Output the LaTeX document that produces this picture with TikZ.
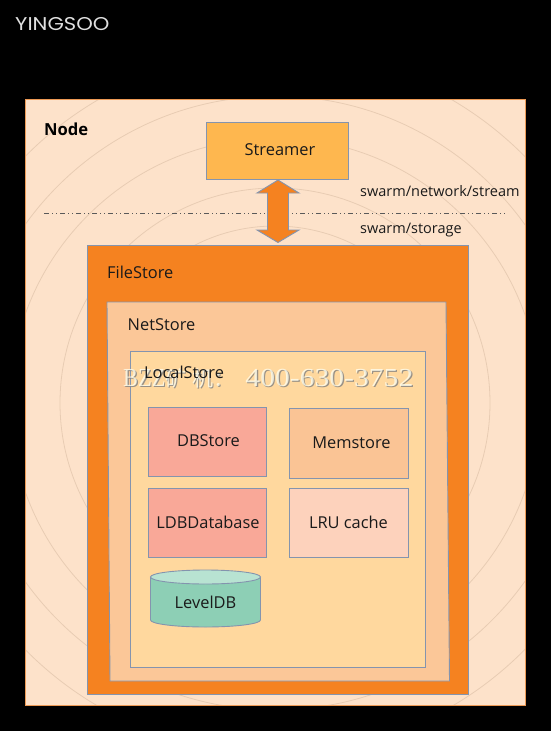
\documentclass[tikz,border=0pt]{standalone}
\usepackage{fontspec}
\setmainfont{Open Sans}
\newfontfamily\logofont{Poppins}
\newfontfamily\wmserif{Liberation Serif}
\newfontfamily\wmcjk{Noto Sans CJK SC}
\usetikzlibrary{shapes.geometric}
\definecolor{bgpeach}{HTML}{FDE2CA}
\definecolor{ringc}{HTML}{E8CCB3}
\definecolor{nodeedge}{HTML}{ED9A55}
\definecolor{edgeblue}{HTML}{8494AE}
\definecolor{streamerc}{HTML}{FEB74F}
\definecolor{orangec}{HTML}{F58220}
\definecolor{netc}{HTML}{FBC798}
\definecolor{localc}{HTML}{FFD89E}
\definecolor{salmonc}{HTML}{F9A898}
\definecolor{memc}{HTML}{FAC495}
\definecolor{lruc}{HTML}{FDD2BC}
\definecolor{cylc}{HTML}{8DCFB5}
\definecolor{cyltop}{HTML}{B8E3D2}
\definecolor{txt}{HTML}{1A1A1A}
\tikzset{
  x=1pt,y=-1pt,
  box/.style={draw=edgeblue,line width=0.9pt,inner sep=0pt,font=\fontsize{16.4}{19}\selectfont,text=txt},
  lab/.style={anchor=west,inner sep=0pt,font=\fontsize{16.4}{19}\selectfont,text=txt},
  small/.style={anchor=west,inner sep=0pt,font=\fontsize{14.5}{17}\selectfont,text=txt},
  ring/.style={draw=ringc,line width=0.8pt},
}
\begin{document}
\begin{tikzpicture}
\useasboundingbox (0,0) rectangle (551,731);
\fill[black] (0,0) rectangle (551,731);
\node[anchor=west,inner sep=0pt,text=white!88!black,font=\logofont\fontsize{18.5}{22}\selectfont] (logo) at (15,24) {\scalebox{1.14}[1]{YINGSOO}};
% Node panel
\begin{scope}
\clip (25,99) rectangle (525,705);
\fill[bgpeach] (25,99) rectangle (525,705);
\foreach \r in {177,215,265,307,351,393}{\draw[ring] (275,403) circle[radius=\r];}
\end{scope}
\draw[nodeedge,line width=0.9pt] (25,99) rectangle (525,705);
\node[anchor=west,inner sep=0pt,text=black,font=\bfseries\fontsize{16.6}{19}\selectfont] (nodelab) at (44,129.5) {Node};
% Separator
\coordinate (sepL) at (44,213.5);
\coordinate (sepR) at (505,213.5);
\draw[draw=black!65,line width=0.7pt,dash pattern=on 5pt off 3pt on 1pt off 3pt on 1pt off 3pt] (sepL) -- (sepR);
% Streamer
\node[box,fill=streamerc,minimum width=142pt,minimum height=57pt] (streamer) at (277.5,150.5) {};
\node[inner sep=0pt,font=\fontsize{16.4}{19}\selectfont,text=txt] (streamerlab) at (280,150) {Streamer};
\node[small] (netlab) at (360,191) {swarm/network/stream};
\node[small] (storlab) at (360,230) {swarm/storage};
% FileStore
\node[box,fill=orangec,minimum width=381pt,minimum height=449pt] (filestore) at (277.5,469.5) {};
\node[lab] (filelab) at (107,272.5) {FileStore};
% Arrow
\coordinate (tipT) at (278,180);
\coordinate (tipB) at (278,242.5);
\draw[draw=edgeblue,fill=orangec,line width=0.9pt,line join=miter]
  (tipT) -- (299,193) -- (288.5,193) -- (288.5,230) -- (299,230) -- (tipB)
  -- (257,230) -- (267.5,230) -- (267.5,193) -- (257,193) -- cycle;
% NetStore
\draw[draw=edgeblue,line width=0.9pt,fill=netc] (107,302) -- (446,302) -- (449.5,681) -- (110,681) -- cycle;
\node[lab] (netstorelab) at (127.5,325) {NetStore};
% LocalStore
\node[box,fill=localc,minimum width=295pt,minimum height=316pt] (localstore) at (277.5,509) {};
% Inner boxes
\node[box,fill=salmonc,minimum width=118pt,minimum height=69pt] (dbstore) at (207,441.5) {};
\node[inner sep=0pt,font=\fontsize{16.4}{19}\selectfont,text=txt] (dblab) at (208.5,441) {DBStore};
\node[box,fill=memc,minimum width=119pt,minimum height=70pt] (memstore) at (348.5,443) {};
\node[inner sep=0pt,font=\fontsize{16.4}{19}\selectfont,text=txt] (memlab) at (351.5,442.5) {Memstore};
\node[box,fill=salmonc,minimum width=118pt,minimum height=69pt] (ldb) at (207,522.5) {};
\node[inner sep=0pt,font=\fontsize{16.4}{19}\selectfont,text=txt] (ldblab) at (208,522.5) {LDBDatabase};
\node[box,fill=lruc,minimum width=119pt,minimum height=69pt] (lru) at (348.5,522.5) {LRU cache};
% Cylinder
\path[draw=edgeblue,line width=0.9pt,fill=cylc] (150.5,577) -- (150.5,620) arc[start angle=180,end angle=360,x radius=55pt,y radius=7pt] -- (260.5,577) -- cycle;
\draw[draw=edgeblue,line width=0.9pt,fill=cyltop] (205.5,577) ellipse[x radius=55pt,y radius=7pt];
\node[inner sep=0pt,font=\fontsize{16.4}{19}\selectfont,text=txt] (leveldb) at (205.5,602) {LevelDB};
% Watermark
\foreach \dx/\col/\nm in {1.2/black!50/wmshadow,0/white!93!yellow/wm}{
  \node[anchor=west,inner sep=0pt,text=\col,opacity=0.8,font=\wmserif\fontsize{26}{30}\selectfont] (\nm) at (123+\dx,378+\dx) {\scalebox{0.86}[1]{BZZ}{\wmcjk\fontsize{21}{24}\selectfont 矿\hspace{6pt}机：}\hspace{11pt}\scalebox{1.14}[1]{400-630-3752}};
}
\node[lab] (locallab) at (144,372.5) {LocalStore};
\end{tikzpicture}
\end{document}
